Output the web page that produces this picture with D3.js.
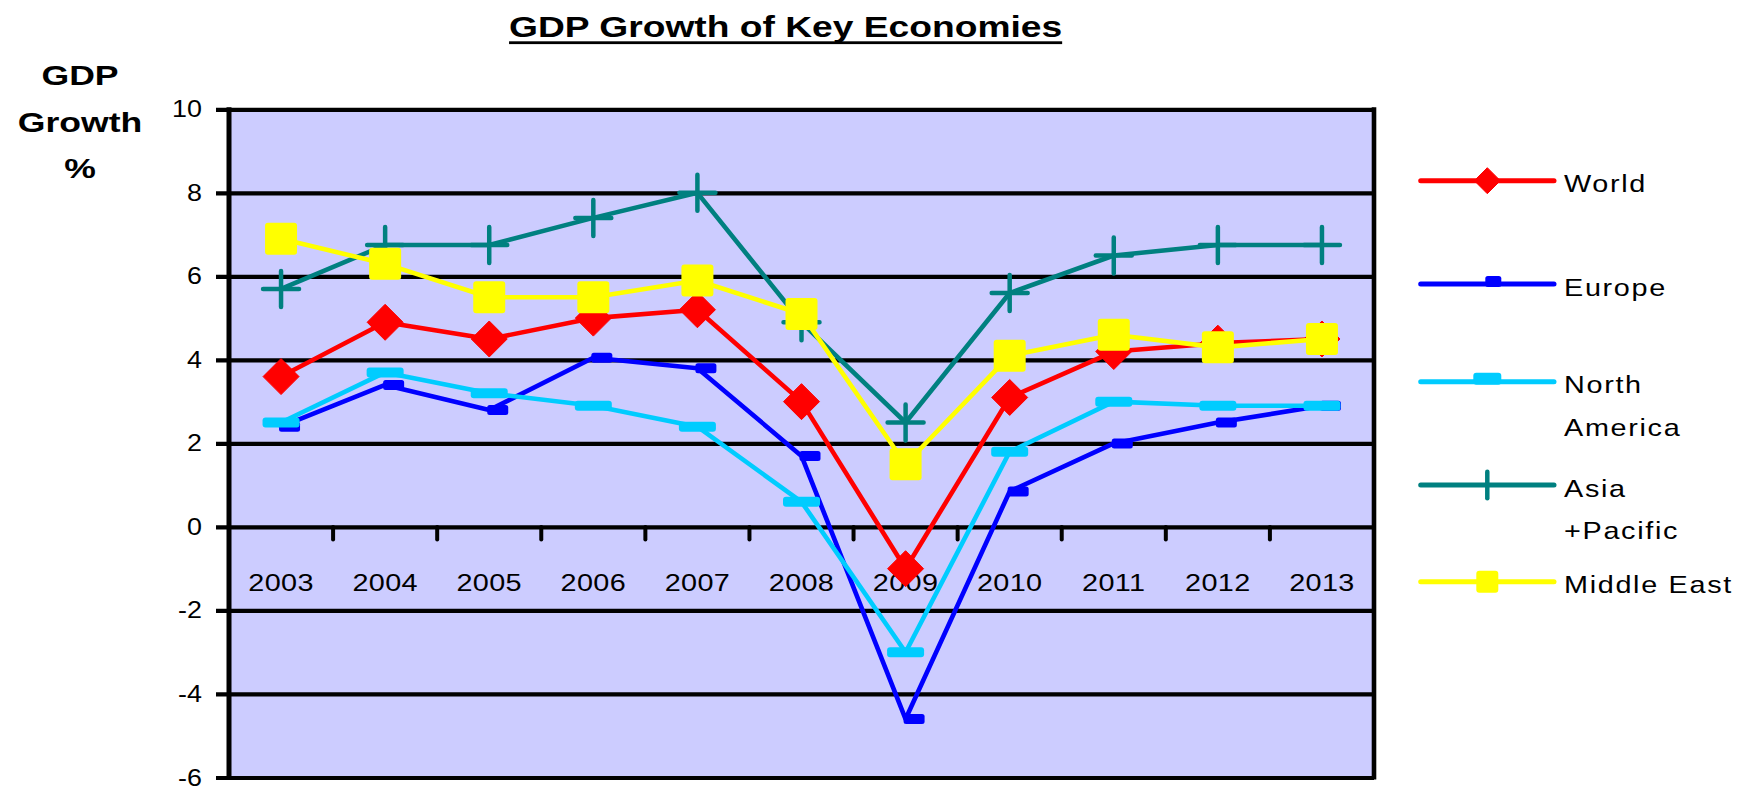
<!DOCTYPE html>
<html>
<head>
<meta charset="utf-8">
<script src="https://cdn.jsdelivr.net/npm/d3@7"></script>
<style>
  html, body { margin: 0; padding: 0; background: #ffffff; }
  svg { display: block; }
  text { font-family: "Liberation Sans", Arial, sans-serif; fill: #000; }
</style>
</head>
<body>
<svg id="chart" width="1740" height="787"></svg>
<script>
// GDP growth (%) by region, 2003-2013
const years = ["2003", "2004", "2005", "2006", "2007", "2008", "2009", "2010", "2011", "2012", "2013"];
const world        = [3.6, 4.9, 4.5, 5.0, 5.2, 3.0, -1.0, 3.1, 4.2, 4.4, 4.5];
const europe       = [2.4, 3.4, 2.8, 4.05, 3.8, 1.7, -4.6, 0.85, 2.0, 2.5, 2.9];
const northAmerica = [2.5, 3.7, 3.2, 2.9, 2.4, 0.6, -3.0, 1.8, 3.0, 2.9, 2.9];
const asiaPacific  = [5.7, 6.75, 6.75, 7.4, 8.0, 4.9, 2.5, 5.6, 6.5, 6.75, 6.75];
const middleEast   = [6.9, 6.3, 5.5, 5.5, 5.9, 5.1, 1.5, 4.1, 4.6, 4.3, 4.5];

const seriesNames  = ["World", "Europe", "North America", "Asia +Pacific", "Middle East"];
const legendLines  = [["World"], ["Europe"], ["North", "America"], ["Asia", "+Pacific"], ["Middle East"]];
const seriesColors = ["#ff0000", "#0000ff", "#00ccff", "#008080", "#ffff00"];
const seriesMarks  = ["diamond", "dashRight", "dash", "plus", "square"];
const yTicks = [-6, -4, -2, 0, 2, 4, 6, 8, 10];

const series = seriesNames.map((name, i) => ({
  name,
  lines: legendLines[i],
  color: seriesColors[i],
  mark: seriesMarks[i],
  values: [world, europe, northAmerica, asiaPacific, middleEast][i]
}));

const svg = d3.select("#chart");
const plot = { left: 229, right: 1374, top: 109.3, bottom: 777.5 };

const x = d3.scaleBand().domain(years).range([plot.left, plot.right]).padding(0);
const y = d3.scaleLinear().domain([-6, 10]).range([plot.bottom, plot.top]);
const cx = d => x(d) + x.bandwidth() / 2;

// horizontally stretched text helper
function stretchedText(parent, tx, ty, str, opts) {
  const g = parent.append("g").attr("transform", `translate(${tx},${ty}) scale(${opts.sx || 1},1)`);
  const t = g.append("text")
    .attr("text-anchor", opts.anchor || "start")
    .style("font-size", opts.size + "px")
    .style("font-weight", opts.weight || "normal")
    .style("letter-spacing", (opts.ls || 0) + "px")
    .text(str);
  return { g, t };
}

svg.append("rect").attr("width", 1740).attr("height", 787).attr("fill", "#ffffff");

// plot area background
svg.append("rect")
  .attr("x", plot.left).attr("y", plot.top)
  .attr("width", plot.right - plot.left).attr("height", plot.bottom - plot.top)
  .attr("fill", "#ccccff");

// title
const title = stretchedText(svg, 785.6, 36.7, "GDP Growth of Key Economies", { size: 30, weight: "bold", sx: 1.24, anchor: "middle" });
const titleW = title.t.node().getComputedTextLength() * 1.24;
svg.append("rect")
  .attr("x", 785.6 - titleW / 2).attr("y", 41.3)
  .attr("width", titleW).attr("height", 2.8)
  .attr("fill", "#000");

// y axis title
[["GDP", 85], ["Growth", 131.7], ["%", 178]].forEach(([s, by]) => {
  stretchedText(svg, 80, by, s, { size: 28, weight: "bold", sx: 1.27, anchor: "middle" });
});

// x category labels (drawn below the series)
const xLabels = svg.append("g");
years.forEach(yr => {
  stretchedText(xLabels, cx(yr), 590.7, yr, { size: 24, sx: 1.2, ls: 0.3, anchor: "middle" });
});

// gridlines with outer ticks on the left
const yAxis = d3.axisLeft(y).tickValues(yTicks).tickSize(plot.right - plot.left + 13).tickFormat("");
const gy = svg.append("g").attr("transform", `translate(${plot.right},0)`).call(yAxis);
gy.select(".domain").remove();
gy.selectAll(".tick line").attr("stroke", "#000").attr("stroke-width", 4.2).attr("x2", -(plot.right - plot.left + 13));

// y tick labels
yTicks.forEach(v => {
  stretchedText(svg, 202, y(v) + 8, String(v).replace("-", "-"), { size: 24, sx: 1.12, anchor: "end" });
});

// x axis tick marks at category boundaries, hanging below the zero line
const boundaries = years.map(d => x(d)).concat([plot.right]);
svg.append("g").selectAll("line").data(boundaries.slice(1, -1)).join("line")
  .attr("x1", d => d).attr("x2", d => d)
  .attr("y1", y(0)).attr("y2", y(0) + 12.5)
  .attr("stroke", "#000").attr("stroke-width", 4).attr("stroke-linecap", "round");

// plot side borders
svg.append("line").attr("x1", plot.left).attr("x2", plot.left).attr("y1", plot.top - 2).attr("y2", plot.bottom + 2)
  .attr("stroke", "#000").attr("stroke-width", 5);
svg.append("line").attr("x1", plot.right).attr("x2", plot.right).attr("y1", plot.top - 2).attr("y2", plot.bottom + 2)
  .attr("stroke", "#000").attr("stroke-width", 4.6);

// marker drawing
function drawMarker(g, mark, color, px, py, legend) {
  if (mark === "diamond") {
    const h = legend ? 13 : 18;
    g.append("path").attr("d", `M${px},${py - h}L${px + h},${py}L${px},${py + h}L${px - h},${py}Z`)
      .attr("fill", color).attr("stroke", color).attr("stroke-width", 1).attr("stroke-linejoin", "round");
  } else if (mark === "dashRight") {
    if (legend) g.append("rect").attr("x", px - 2).attr("y", py - 8).attr("width", 16).attr("height", 11).attr("rx", 2.5).attr("fill", color);
    else g.append("rect").attr("x", px - 2).attr("y", py - 5).attr("width", 21).attr("height", 10).attr("rx", 2.5).attr("fill", color);
  } else if (mark === "dash") {
    if (legend) g.append("rect").attr("x", px - 14).attr("y", py - 9).attr("width", 28).attr("height", 12).attr("rx", 3).attr("fill", color);
    else g.append("rect").attr("x", px - 18.5).attr("y", py - 5).attr("width", 37).attr("height", 10).attr("rx", 3).attr("fill", color);
  } else if (mark === "plus") {
    const h = legend ? 13.3 : 18;
    g.append("path")
      .attr("d", legend ? `M${px},${py - h}V${py + h}` : `M${px - h},${py}H${px + h}M${px},${py - h}V${py + h}`)
      .attr("stroke", color).attr("stroke-width", 4.5).attr("stroke-linecap", "round").attr("fill", "none");
  } else if (mark === "square") {
    const s = legend ? 22 : 32;
    g.append("rect").attr("x", px - s / 2).attr("y", py - s / 2).attr("width", s).attr("height", s).attr("rx", 3).attr("fill", color);
  }
}

// series lines and markers
const line = d3.line().x((d, i) => cx(years[i])).y(d => y(d));
series.forEach(s => {
  const g = svg.append("g");
  g.append("path").datum(s.values).attr("d", line)
    .attr("fill", "none").attr("stroke", s.color).attr("stroke-width", 4.6)
    .attr("stroke-linejoin", "round").attr("stroke-linecap", "round");
  s.values.forEach((v, i) => drawMarker(g, s.mark, s.color, cx(years[i]), y(v), false));
});

// legend
const legendY = [180.7, 284, 381.7, 485, 581.7];
const legend = svg.append("g");
series.forEach((s, i) => {
  const ly = legendY[i];
  legend.append("line").attr("x1", 1420.7).attr("x2", 1554).attr("y1", ly).attr("y2", ly)
    .attr("stroke", s.color).attr("stroke-width", 5).attr("stroke-linecap", "round");
  drawMarker(legend, s.mark, s.color, 1487.3, ly, true);
  s.lines.forEach((txt, k) => {
    stretchedText(legend, 1564, ly + 11.7 + k * 42.7, txt, { size: 24, sx: 1.2, ls: 1.4 });
  });
});
</script>
</body>
</html>
